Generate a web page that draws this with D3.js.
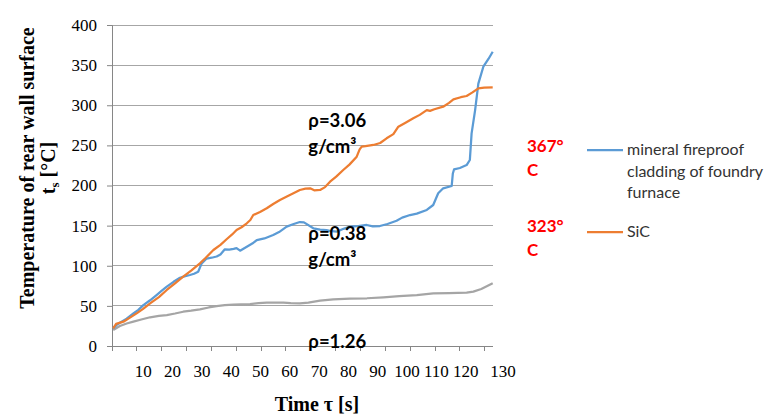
<!DOCTYPE html>
<html><head><meta charset="utf-8">
<script src="https://cdn.jsdelivr.net/npm/d3@7"></script>
<style>body{margin:0;background:#fff}</style>
</head><body><svg id="c" width="768" height="416"></svg>
<script>
// ---- data ----
const xTickLabels = [10,20,30,40,50,60,70,80,90,100,110,120,130];
const yTicks = [0,50,100,150,200,250,300,350,400];
const seriesNames = ["mineral fireproof cladding of foundry furnace","SiC","ρ=1.26"];
const blueTime = [0.4,1.5,2.7,5,7.3,9,10.7,13,15.2,17,18.7,21,23.2,25,26.6,28,29.4,30.6,32.3,34,35.7,37,38.5,40,41.5,42.5,43.7,46,48,49.4,52,55,57,59.6,62,64.1,65.5,68.7,71,73.2,75,76.7,79,81.2,84,86.9,89,91.4,94,97.1,99,101.7,104,107.4,109.6,111.3,113,115.9,116.3,116.7,118.7,121,122.1,122.7,123.9,125,126.7,128.5,129.9];
const blueTemp = [22,26,29,34,40.5,45,51,57,63.5,69,74,80,85,87,88.5,90,92.5,103,109,110,111.5,114,120.5,120,121,122,118.8,123.7,128,132,134,138.3,142,148.7,152,154.5,154,146.7,145,144.5,143,142.5,146,148.7,149.5,150.8,149,149.5,152,156,160,163.2,165,169.5,175.7,190.3,196.5,199.4,215,220,221.8,225.5,231.8,265,294,327,348,358,366.7];
const orangeTime = [0.4,1.4,3.9,6,8.4,10.5,13,16,18.7,21.5,24.3,27,30,32,34.6,37,39.1,41,42.5,44.2,46,47.2,48.2,50.5,52.8,55,57.3,59.5,61.9,64.1,66,67.6,69,71,72.7,74.4,76.5,78.9,81,83.5,84.5,85.2,86.5,89.2,91.5,93.7,96,97.7,100,102.8,105,107.4,108.5,110,113,115,116.5,119,121,123,125,127,129.9];
const orangeTemp = [22,27.5,30.3,35,40.7,46,53.2,61,69.8,78,86.4,94,103,110,119.6,126,133,139,144.5,148,152.9,157,163.2,167,171.6,177,182,186,190.3,194.4,196,196.5,194,194.4,198,204.7,211,219.3,226,235.9,245,248.4,249,250.5,253,258.8,264,273.3,278,283.7,288,294,293,295,298.2,303,307.4,310,311.5,316,321.1,322,322.4];
const greyTime = [0.4,2.7,5,7.3,10,13,16,18.7,21.5,24.3,27,30,33,35.7,38.5,41.4,44,47.1,50,52.8,55.6,58.5,61,64.1,67,71,75.5,81.2,87,92.6,98,104,109.6,115,121,123.3,126,129.9];
const greyTemp = [20,25,28,30.3,33,35.8,37.5,38.6,40.5,42.7,44,45.7,48,49.8,51,51.5,52,52.3,53.5,54,54.2,54,53.5,53.2,54,56.5,58.2,59,59.5,60.6,62,63.5,65.6,66,66.4,67.7,71,78.1];
const densityLabels = [["ρ=3.06","g/cm³"],["ρ=0.38","g/cm³"],["ρ=1.26"]];
const densityAt = [[67,275],[67,134],[67,0]]; // [time, temp] anchor in data units
const endLabels = [["367°","C"],["323°","C"]];

// ---- chart ----
const svg = d3.select("#c");
svg.append("rect").attr("width",768).attr("height",416).attr("fill","#fff");
const x = d3.scaleLinear().domain([0,130]).range([112,493]);
const y = d3.scaleLinear().domain([0,400]).range([346,25]);
const serif = "'Times New Roman','Liberation Serif',serif";
const sans = "Lato,'Open Sans',sans-serif";

// gridlines
svg.append("g").selectAll("line").data(yTicks.filter(d=>d>0)).join("line")
  .attr("x1",112).attr("x2",493).attr("y1",d=>y(d)).attr("y2",d=>y(d))
  .attr("stroke","#a6a6a6").attr("stroke-width",1).attr("shape-rendering","crispEdges");

// y axis
const ya = svg.append("g").attr("transform","translate(112,0)")
  .call(d3.axisLeft(y).tickValues(yTicks).tickSize(5).tickPadding(10));
ya.attr("font-family",null).attr("font-size",null);
ya.select(".domain").attr("stroke","#868686");
ya.selectAll(".tick line").attr("stroke","#868686");
ya.selectAll("text").style("font-family",serif).style("font-size","17px").attr("fill","#000");

// x axis: tick marks (category-style) and labels
const markScale = d3.scaleLinear().domain([0,15.33]).range([112,493]);
const xa = svg.append("g").attr("transform","translate(0,346)");
xa.append("line").attr("x1",112).attr("x2",493).attr("stroke","#868686").attr("shape-rendering","crispEdges");
xa.selectAll("line.m").data(d3.range(0,16)).join("line").attr("class","m")
  .attr("x1",d=>markScale(d)).attr("x2",d=>markScale(d)).attr("y1",0).attr("y2",5)
  .attr("stroke","#868686").attr("shape-rendering","crispEdges");
xa.selectAll("text").data(xTickLabels).join("text")
  .attr("x",d=>x(d)+(d===130?10:2)).attr("y",31).attr("text-anchor","middle")
  .style("font-family",serif).style("font-size","17px").text(d=>d);

// lines
const line = d3.line().x(d=>x(d[0])).y(d=>y(d[1]));
const series = [
  {t:greyTime,v:greyTemp,c:"#a5a5a5"},
  {t:blueTime,v:blueTemp,c:"#5b9bd5"},
  {t:orangeTime,v:orangeTemp,c:"#ed7d31"}
];
series.forEach(s=>{
  svg.append("path").datum(s.t.map((t,i)=>[t,s.v[i]])).attr("d",line)
    .attr("fill","none").attr("stroke",s.c).attr("stroke-width",2.25).attr("stroke-linejoin","round");
});

// density annotations
densityLabels.forEach((lines,i)=>{
  const [t,v]=densityAt[i];
  const tx = svg.append("text").attr("x",x(t)).attr("y",y(v)+2)
    .attr("font-family",sans).attr("font-weight","bold").attr("font-size",18.5).attr("fill","#000");
  lines.forEach((l,j)=>tx.append("tspan").attr("x",x(t)).attr("dy",j?25.5:0).text(l));
});

// end-value annotations
[[blueTemp[blueTemp.length-1],152],[orangeTemp[orangeTemp.length-1],232]].forEach((d,i)=>{
  const tx = svg.append("text").attr("x",527).attr("y",d[1])
    .attr("font-family",sans).attr("font-weight","bold").attr("font-size",17).attr("fill","#ff0000");
  endLabels[i].forEach((l,j)=>tx.append("tspan").attr("x",527).attr("dy",j?24:0).text(l));
});

// legend
const leg = [
  {c:"#5b9bd5",y:150,lines:["mineral fireproof","cladding of foundry","furnace"]},
  {c:"#ed7d31",y:232,lines:["SiC"]}
];
leg.forEach(l=>{
  svg.append("line").attr("x1",587).attr("x2",623).attr("y1",l.y).attr("y2",l.y)
    .attr("stroke",l.c).attr("stroke-width",2.25);
  const tx = svg.append("text").attr("x",627).attr("y",l.y+5)
    .attr("font-family",sans).attr("font-size",16).attr("fill","#333");
  l.lines.forEach((s,j)=>tx.append("tspan").attr("x",627).attr("dy",j?21.5:0).text(s));
});

// axis titles
svg.append("text").attr("transform","translate(34,168) rotate(-90)").attr("text-anchor","middle")
  .style("font-family",serif).attr("font-weight","bold").attr("font-size",20).text("Temperature of rear wall surface");
const t2 = svg.append("text").attr("transform","translate(55,168) rotate(-90)").attr("text-anchor","middle")
  .style("font-family",serif).attr("font-weight","bold").attr("font-size",20);
t2.append("tspan").text("t");
t2.append("tspan").attr("font-size",13).attr("dy",4).text("s");
t2.append("tspan").attr("dy",-4).text(" [°C]");
svg.append("text").attr("x",317).attr("y",411).attr("text-anchor","middle")
  .style("font-family",serif).attr("font-weight","bold").attr("font-size",20).text("Time τ [s]");
</script></body></html>
